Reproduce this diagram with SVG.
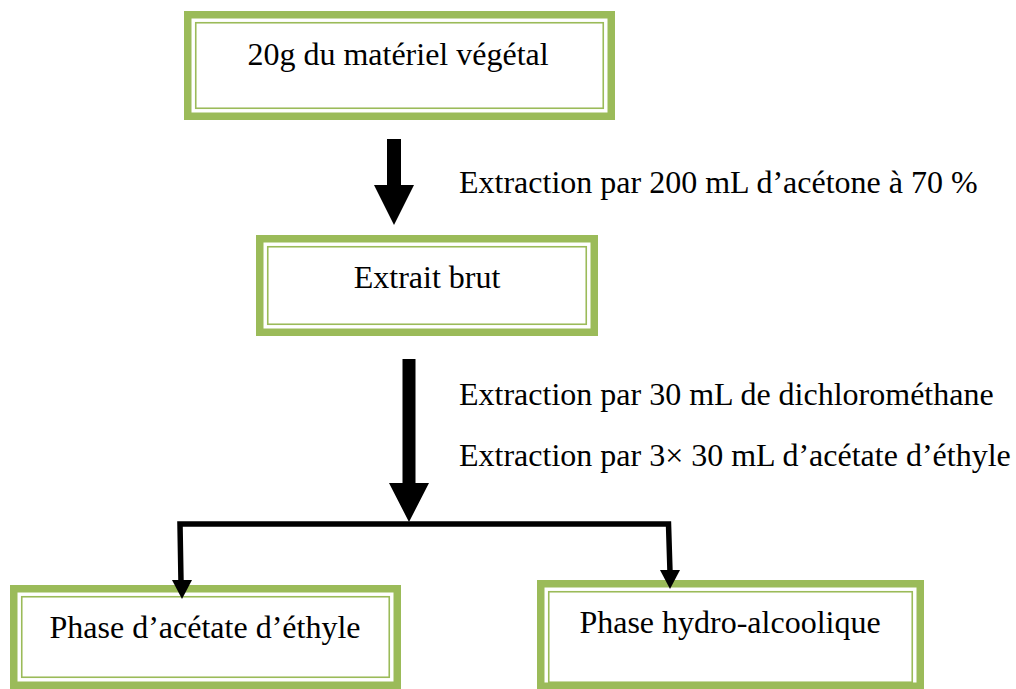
<svg xmlns="http://www.w3.org/2000/svg" width="1016" height="689" viewBox="0 0 1016 689">
<style>
.thick{fill:none;stroke:#9BBB59;stroke-width:7.5}
.thin{fill:none;stroke:#9BBB59;stroke-width:1.6}
.bg{fill:#FFFFFF}
text{font-family:"Liberation Serif","Times New Roman",serif;font-size:32px;fill:#000}
.c{text-anchor:middle}
.ar{fill:#000;stroke:none}
.ln{fill:none;stroke:#000;stroke-width:5.5;stroke-linejoin:miter}
</style>
<rect x="0" y="0" width="1016" height="689" fill="#FFFFFF"/>
<g id="node-materiel">
<rect class="thick" x="187.75" y="14.75" width="423.5" height="101.5"/>
<rect class="thin" x="195.75" y="22.75" width="407.5" height="85.5"/>
<text class="c" x="398" y="65">20g du matériel végétal</text>
</g>
<g id="node-extrait">
<rect class="thick" x="259.75" y="238.75" width="334.5" height="93.5"/>
<rect class="thin" x="267.75" y="246.75" width="318.5" height="77.5"/>
<text class="c" x="427" y="288">Extrait brut</text>
</g>
<g id="node-acetate">
<rect class="thick" x="13.75" y="588.75" width="383.5" height="96.5"/>
<rect class="thin" x="21.75" y="596.75" width="367.5" height="80.5"/>
<text class="c" x="205" y="638">Phase d’acétate d’éthyle</text>
</g>
<g id="node-hydro">
<rect class="thick" x="540.75" y="583.75" width="379.5" height="102.5"/>
<rect class="thin" x="548.75" y="591.75" width="363.5" height="90.5"/>
<text class="c" x="730" y="633">Phase hydro-alcoolique</text>
</g>
<g id="connectors">
<polygon class="ar" points="387,139 401,139 401,185 414,185 394,225 374,185 387,185"/>
<polygon class="ar" points="402.5,359 415.5,359 415.5,483 429,483 409,522 389,483 402.5,483"/>
<path class="ln" d="M181,582 L180,524 L668.5,524 L670,572"/>
<polygon class="ar" points="172,580 192,580 182,599"/>
<polygon class="ar" points="660,570 680,570 670,589"/>
</g>
<g id="labels">
<text x="459" y="193">Extraction par 200 mL d’acétone à 70 %</text>
<text x="459" y="405">Extraction par 30 mL de dichlorométhane</text>
<text x="459" y="466">Extraction par 3× 30 mL d’acétate d’éthyle</text>
</g>
</svg>
